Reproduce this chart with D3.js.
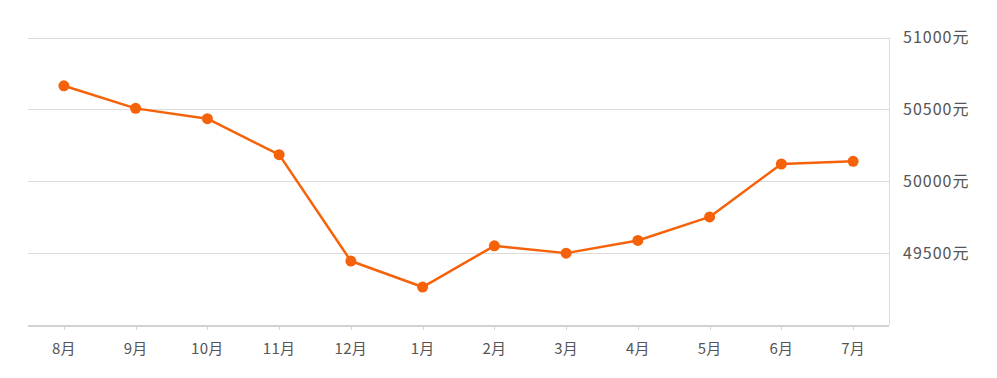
<!DOCTYPE html>
<html>
<head>
<meta charset="utf-8">
<script src="https://cdn.jsdelivr.net/npm/d3@7"></script>
<style>
	body { margin: 0; background: #fff; }
	svg { display: block; }
	.tick-label { font-family: "Microsoft YaHei", "Noto Sans CJK SC", sans-serif; fill: #555; }
	.x-label { font-size: 15px; letter-spacing: 0.3px; }
	.y-label { font-size: 16px; letter-spacing: 1px; }
</style>
</head>
<body>
<script>
var months = ['8月', '9月', '10月', '11月', '12月', '1月', '2月', '3月', '4月', '5月', '6月', '7月'];
var prices = [50664, 50507, 50435, 50185, 49445, 49264, 49551, 49500, 49588, 49752, 50120, 50139];
var yTicks = [49500, 50000, 50500, 51000];

(function () {
	var width = 997, height = 378;
	var plotLeft = 28, plotRight = 889, plotTop = 37.5, plotBottom = 325;
	var lineColor = '#f5620a';

	var svg = d3.select('body').append('svg')
		.attr('width', width)
		.attr('height', height);

	var x = d3.scaleBand()
		.domain(months)
		.range([plotLeft, plotRight]);

	var y = d3.scaleLinear()
		.domain([49000, 51000])
		.range([plotBottom, plotTop]);

	function cx(d, i) { return x(months[i]) + x.bandwidth() / 2; }

	// grid lines
	svg.append('g').selectAll('line').data(yTicks).enter().append('line')
		.attr('x1', plotLeft).attr('x2', plotRight)
		.attr('y1', function (d) { return Math.round(y(d)) + 0.5; })
		.attr('y2', function (d) { return Math.round(y(d)) + 0.5; })
		.attr('stroke', '#dcdcdc')
		.attr('stroke-width', 1);

	// right border
	svg.append('line')
		.attr('x1', plotRight + 0.5).attr('x2', plotRight + 0.5)
		.attr('y1', plotTop).attr('y2', plotBottom)
		.attr('stroke', '#dcdcdc');

	// y labels on the right
	svg.append('g').selectAll('text').data(yTicks).enter().append('text')
		.attr('class', 'tick-label y-label')
		.attr('x', 903)
		.attr('y', function (d) { return y(d); })
		.attr('dy', '0.35em')
		.text(function (d) { return d + '元'; });

	// x axis
	var xAxis = svg.append('g');
	xAxis.append('line')
		.attr('x1', plotLeft).attr('x2', plotRight)
		.attr('y1', plotBottom + 1).attr('y2', plotBottom + 1)
		.attr('stroke', '#d2d2d2')
		.attr('stroke-width', 2);
	xAxis.selectAll('.tk').data(months).enter().append('line')
		.attr('class', 'tk')
		.attr('x1', function (d) { return Math.round(x(d) + x.bandwidth() / 2) + 0.5; })
		.attr('x2', function (d) { return Math.round(x(d) + x.bandwidth() / 2) + 0.5; })
		.attr('y1', plotBottom + 2).attr('y2', plotBottom + 5)
		.attr('stroke', '#d2d2d2');
	xAxis.selectAll('text').data(months).enter().append('text')
		.attr('class', 'tick-label x-label')
		.attr('x', function (d) { return x(d) + x.bandwidth() / 2; })
		.attr('y', 349)
		.attr('dy', '0.35em')
		.attr('text-anchor', 'middle')
		.text(function (d) { return d; });

	// line
	var line = d3.line()
		.x(cx)
		.y(function (d) { return y(d); });

	svg.append('path')
		.datum(prices)
		.attr('d', line)
		.attr('fill', 'none')
		.attr('stroke', lineColor)
		.attr('stroke-width', 2.5)
		.attr('stroke-linejoin', 'round');

	// markers
	svg.append('g').selectAll('circle').data(prices).enter().append('circle')
		.attr('cx', cx)
		.attr('cy', function (d) { return y(d); })
		.attr('r', 5.5)
		.attr('fill', lineColor);
})();
</script>
</body>
</html>
